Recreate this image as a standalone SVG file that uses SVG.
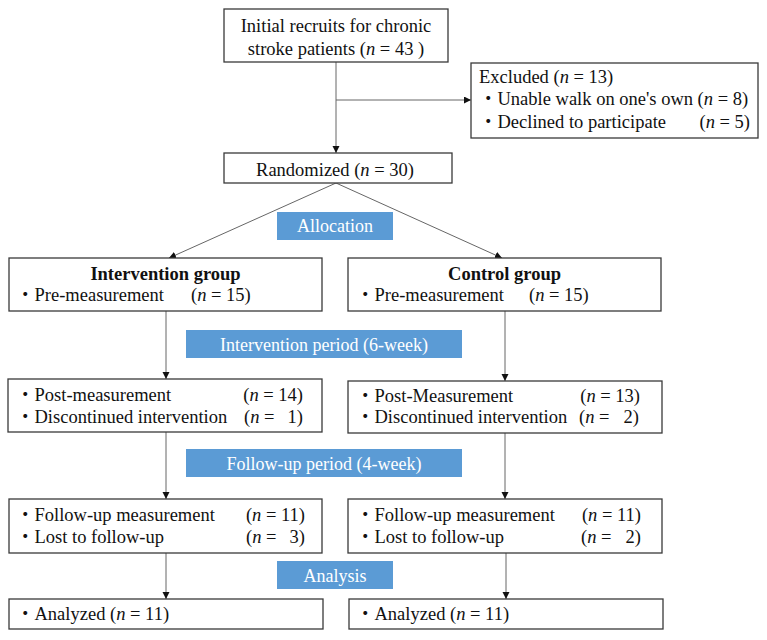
<svg xmlns="http://www.w3.org/2000/svg" width="767" height="640" viewBox="0 0 767 640">
<style>
  .box { fill: #ffffff; stroke: #3a3a3a; stroke-width: 1.3; }
  .lab { fill: #5b9bd5; }
  .t { font-family: "Liberation Serif", "Noto Sans CJK JP", serif; font-size: 18.5px; fill: #111111; }
  .w { font-family: "Liberation Serif", "Noto Sans CJK JP", serif; font-size: 18px; fill: #ffffff; text-anchor: middle; }
  .c { text-anchor: middle; }
  .b { font-weight: bold; }
  .i { font-style: italic; }
  .con { stroke: #666666; stroke-width: 1; fill: none; marker-end: url(#ah); }
</style>
<defs>
  <marker id="ah" markerUnits="userSpaceOnUse" markerWidth="8" markerHeight="8" refX="7" refY="3.5" orient="auto">
    <path d="M0,0 L7,3.5 L0,7 z" fill="#111111"/>
  </marker>
</defs>
<rect width="767" height="640" fill="#ffffff"/>

<g id="connectors">
  <line class="con" x1="336" y1="62" x2="336" y2="153"/>
  <line class="con" x1="336" y1="100" x2="471" y2="100"/>
  <line class="con" x1="336" y1="183" x2="169" y2="258"/>
  <line class="con" x1="336" y1="183" x2="502" y2="258"/>
  <line class="con" x1="166" y1="311" x2="166" y2="379"/>
  <line class="con" x1="505" y1="311" x2="505" y2="381"/>
  <line class="con" x1="166" y1="432" x2="166" y2="499"/>
  <line class="con" x1="505" y1="433" x2="505" y2="499"/>
  <line class="con" x1="166" y1="553" x2="166" y2="599"/>
  <line class="con" x1="506" y1="553" x2="506" y2="599"/>
</g>

<g id="recruits">
  <rect class="box" x="224" y="9" width="224" height="53"/>
  <text class="t c" x="336" y="32">Initial recruits for chronic</text>
  <text class="t c" x="336" y="55">stroke patients (<tspan class="i">n</tspan> = 43 )</text>
</g>

<g id="excluded">
  <rect class="box" x="471" y="63" width="287" height="75"/>
  <text class="t" x="479" y="83">Excluded (<tspan class="i">n</tspan> = 13)</text>
  <text class="t" x="479" y="105">・Unable walk on one's own (<tspan class="i">n</tspan> = 8)</text>
  <text class="t" x="479" y="128">・Declined to participate<tspan x="750" text-anchor="end">(<tspan class="i">n</tspan> = 5)</tspan></text>
</g>

<g id="randomized">
  <rect class="box" x="224" y="153" width="228" height="30"/>
  <text class="t c" x="335" y="176">Randomized (<tspan class="i">n</tspan> = 30)</text>
</g>

<g id="allocation">
  <rect class="lab" x="277" y="212" width="116" height="28"/>
  <text class="w" x="335" y="232">Allocation</text>
</g>

<g id="intervention-group">
  <rect class="box" x="9" y="258" width="313" height="53"/>
  <text class="t c b" x="165.5" y="280">Intervention group</text>
  <text class="t" x="16" y="301">・Pre-measurement<tspan x="191">(<tspan class="i">n</tspan> = 15)</tspan></text>
</g>

<g id="control-group">
  <rect class="box" x="348" y="258" width="313" height="53"/>
  <text class="t c b" x="504.5" y="280">Control group</text>
  <text class="t" x="356" y="301">・Pre-measurement<tspan x="529">(<tspan class="i">n</tspan> = 15)</tspan></text>
</g>

<g id="intervention-period">
  <rect class="lab" x="186" y="330" width="276" height="28"/>
  <text class="w" x="324" y="351">Intervention period (6-week)</text>
</g>

<g id="post-intervention">
  <rect class="box" x="8" y="379" width="314" height="53"/>
  <text class="t" x="16" y="401">・Post-measurement<tspan x="303" text-anchor="end">(<tspan class="i">n</tspan> = 14)</tspan></text>
  <text class="t" x="16" y="423">・Discontinued intervention<tspan x="244">(<tspan class="i">n</tspan> =</tspan><tspan x="303" text-anchor="end">1)</tspan></text>
</g>

<g id="post-control">
  <rect class="box" x="348" y="381" width="314" height="52"/>
  <text class="t" x="356" y="402">・Post-Measurement<tspan x="640" text-anchor="end">(<tspan class="i">n</tspan> = 13)</tspan></text>
  <text class="t" x="356" y="423">・Discontinued intervention<tspan x="579">(<tspan class="i">n</tspan> =</tspan><tspan x="639" text-anchor="end">2)</tspan></text>
</g>

<g id="followup-period">
  <rect class="lab" x="186" y="449" width="276" height="28"/>
  <text class="w" x="324" y="470">Follow-up period (4-week)</text>
</g>

<g id="followup-intervention">
  <rect class="box" x="9" y="499" width="313" height="54"/>
  <text class="t" x="16" y="521">・Follow-up measurement<tspan x="305" text-anchor="end">(<tspan class="i">n</tspan> = 11)</tspan></text>
  <text class="t" x="16" y="543">・Lost to follow-up<tspan x="246">(<tspan class="i">n</tspan> =</tspan><tspan x="305" text-anchor="end">3)</tspan></text>
</g>

<g id="followup-control">
  <rect class="box" x="348" y="499" width="314" height="54"/>
  <text class="t" x="356" y="521">・Follow-up measurement<tspan x="641" text-anchor="end">(<tspan class="i">n</tspan> = 11)</tspan></text>
  <text class="t" x="356" y="543">・Lost to follow-up<tspan x="581">(<tspan class="i">n</tspan> =</tspan><tspan x="641" text-anchor="end">2)</tspan></text>
</g>

<g id="analysis">
  <rect class="lab" x="277" y="561" width="116" height="28"/>
  <text class="w" x="335" y="582">Analysis</text>
</g>

<g id="analyzed-intervention">
  <rect class="box" x="9" y="599" width="314" height="30"/>
  <text class="t" x="16" y="620">・Analyzed (<tspan class="i">n</tspan> = 11)</text>
</g>

<g id="analyzed-control">
  <rect class="box" x="349" y="599" width="314" height="30"/>
  <text class="t" x="356" y="620">・Analyzed (<tspan class="i">n</tspan> = 11)</text>
</g>
</svg>
